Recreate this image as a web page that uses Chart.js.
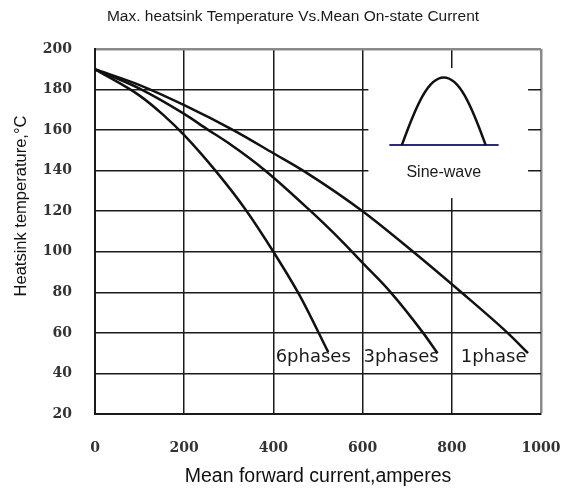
<!DOCTYPE html>
<html>
<head>
<meta charset="utf-8">
<script src="https://cdn.jsdelivr.net/npm/chart.js@4"></script>
<style>
  html, body { margin: 0; padding: 0; background: #fff; }
  #wrap { width: 569px; height: 493px; }
</style>
</head>
<body>
<div id="wrap"><canvas id="heatsinkChart" width="569" height="493"></canvas></div>
<script>
const xTicks = [0, 200, 400, 600, 800, 1000];
const yTicks = [20, 40, 60, 80, 100, 120, 140, 160, 180, 200];

const phase6Current = [0, 100, 153, 200, 270, 337, 400, 460, 523];
const phase6Temp    = [190, 177, 167.5, 157.5, 140, 121, 100, 78, 50.5];

const phase3Current = [0, 100, 200, 251, 300, 382, 479, 550, 600, 663, 734, 768];
const phase3Temp    = [190, 180.5, 168, 160.5, 153.5, 140, 121, 106, 94.5, 80, 60.5, 50];

const phase1Current = [0, 100, 200, 310, 400, 472, 600, 708, 816, 925, 971];
const phase1Temp    = [190, 182.2, 172.3, 160, 148.6, 139.3, 120, 101, 81, 60, 50];

const curveLabels = ['6phases', '3phases', '1phase'];
const labelCurrent = [405, 602, 820];
const labelTemp = [48, 48, 48];

(function() {
  const el = document.getElementById('heatsinkChart');
  const sans = '"Liberation Sans", Arial, sans-serif';
  const serif = '"DejaVu Serif", serif';

  function toPoints(xs, ys) {
    return xs.map((x, i) => ({ x: x, y: ys[i] }));
  }

  function curve(label, xs, ys) {
    return {
      label: label,
      data: toPoints(xs, ys),
      borderColor: '#111',
      borderWidth: 2.5,
      pointRadius: 0,
      fill: false,
      cubicInterpolationMode: 'monotone'
    };
  }

  // sine-wave inset, phase labels, title and the rotated y title
  const extras = {
    id: 'extras',
    beforeDatasetsDraw(chart) {
      const ctx = chart.ctx;
      const x = chart.scales.x, y = chart.scales.y;
      ctx.save();
      ctx.fillStyle = '#fff';
      const l = x.getPixelForValue(613), r = x.getPixelForValue(971);
      const t = y.getPixelForValue(190.6), b = y.getPixelForValue(126.5);
      ctx.fillRect(l, t, r - l, b - t);

      const base = y.getPixelForValue(152.6);
      ctx.strokeStyle = '#2b2b7a';
      ctx.lineWidth = 2;
      ctx.beginPath();
      ctx.moveTo(x.getPixelForValue(660), base);
      ctx.lineTo(x.getPixelForValue(905), base);
      ctx.stroke();

      const a0 = x.getPixelForValue(688), a1 = x.getPixelForValue(876);
      const peak = y.getPixelForValue(186);
      const w = a1 - a0, h = base - peak;
      ctx.strokeStyle = '#111';
      ctx.lineWidth = 2.5;
      ctx.beginPath();
      ctx.moveTo(a0, base);
      ctx.bezierCurveTo(a0 + w * 0.18, base - h * 0.62, a0 + w * 0.32, base - h * 1.0, a0 + w * 0.5, peak);
      ctx.bezierCurveTo(a0 + w * 0.68, base - h * 1.0, a0 + w * 0.82, base - h * 0.62, a1, base);
      ctx.stroke();

      ctx.fillStyle = '#1a1a1a';
      ctx.font = '16px ' + sans;
      ctx.textAlign = 'center';
      ctx.textBaseline = 'middle';
      ctx.fillText('Sine-wave', x.getPixelForValue(782), y.getPixelForValue(139));
      ctx.restore();
    },
    afterDatasetsDraw(chart) {
      const ctx = chart.ctx;
      const x = chart.scales.x, y = chart.scales.y;
      ctx.save();
      ctx.fillStyle = '#1a1a1a';
      ctx.font = '18px "DejaVu Sans", sans-serif';
      ctx.textAlign = 'left';
      ctx.textBaseline = 'middle';
      curveLabels.forEach((txt, i) => {
        ctx.fillText(txt, x.getPixelForValue(labelCurrent[i]), y.getPixelForValue(labelTemp[i]));
      });
      ctx.restore();
    },
    afterDraw(chart) {
      const ctx = chart.ctx;
      ctx.save();
      ctx.fillStyle = '#1a1a1a';
      ctx.font = '15.5px ' + sans;
      ctx.textAlign = 'center';
      ctx.textBaseline = 'middle';
      ctx.fillText('Max. heatsink Temperature Vs.Mean On-state Current', 293, 17);

      ctx.translate(21, 206);
      ctx.rotate(-Math.PI / 2);
      ctx.fillStyle = '#111';
      ctx.font = '16.5px ' + sans;
      ctx.fillText('Heatsink temperature,\u00b0C', 0, 0);
      ctx.restore();
    }
  };

  new Chart(el, {
    type: 'line',
    data: {
      datasets: [
        curve('6phases', phase6Current, phase6Temp),
        curve('3phases', phase3Current, phase3Temp),
        curve('1phase', phase1Current, phase1Temp)
      ]
    },
    options: {
      responsive: false,
      animation: false,
      layout: { padding: { left: 0, right: 28, top: 49, bottom: 0 } },
      plugins: {
        legend: { display: false },
        tooltip: { enabled: false },
        title: { display: false }
      },
      scales: {
        x: {
          type: 'linear',
          min: 0,
          max: 1000,
          afterFit: s => { s.height = 79; s.paddingLeft = 0; s.paddingRight = 0; },
          afterBuildTicks: s => { s.ticks = xTicks.map(v => ({ value: v })); },
          ticks: {
            padding: 26,
            color: '#333',
            font: { family: serif, size: 14, weight: 'bold' },
            callback: v => String(v)
          },
          grid: {
            drawTicks: false,
            color: c => c.tick && c.tick.value === 1000 ? '#8a8a8a' : '#1a1a1a',
            lineWidth: c => c.tick && c.tick.value === 1000 ? 2.5 : 1.5
          },
          border: { color: '#1a1a1a', width: 2 },
          title: {
            display: true,
            text: 'Mean forward current,amperes',
            color: '#111',
            font: { family: sans, size: 19.5 },
            padding: { top: 0, bottom: 5 }
          }
        },
        y: {
          min: 20,
          max: 200,
          afterFit: s => { s.width = 95; s.paddingTop = 0; s.paddingBottom = 0; },
          afterBuildTicks: s => { s.ticks = yTicks.map(v => ({ value: v })); },
          ticks: {
            padding: 23,
            color: '#333',
            font: { family: serif, size: 14, weight: 'bold' },
            callback: v => String(v)
          },
          grid: {
            drawTicks: false,
            color: c => c.tick && c.tick.value === 200 ? '#8a8a8a' : '#1a1a1a',
            lineWidth: c => c.tick && c.tick.value === 200 ? 2.5 : 1.5
          },
          border: { color: '#1a1a1a', width: 2 }
        }
      }
    },
    plugins: [extras]
  });
})();
</script>
</body>
</html>
